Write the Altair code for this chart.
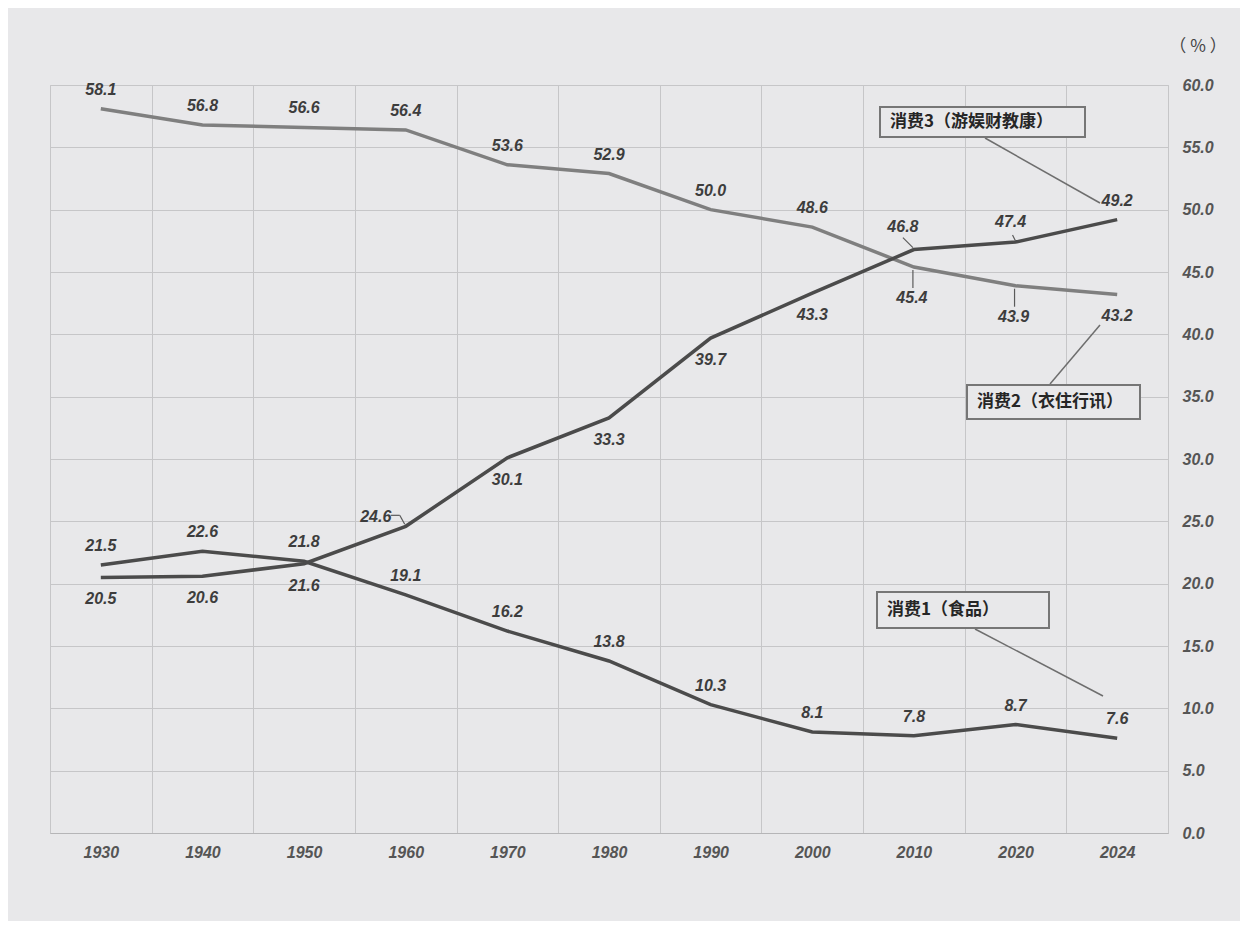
import altair as alt
import pandas as pd

# ---------------- data ----------------
years = ["1930", "1940", "1950", "1960", "1970", "1980", "1990", "2000", "2010", "2020", "2024"]
food = [21.5, 22.6, 21.8, 19.1, 16.2, 13.8, 10.3, 8.1, 7.8, 8.7, 7.6]
living = [58.1, 56.8, 56.6, 56.4, 53.6, 52.9, 50.0, 48.6, 45.4, 43.9, 43.2]
leisure = [20.5, 20.6, 21.6, 24.6, 30.1, 33.3, 39.7, 43.3, 46.8, 47.4, 49.2]
series_names = ["消费1（食品）", "消费2（衣住行讯）", "消费3（游娱财教康）"]
y_ticks = [0, 5, 10, 15, 20, 25, 30, 35, 40, 45, 50, 55, 60]

# label placement kind per point
food_pos = ["above"] * 11
living_pos = ["above"] * 8 + ["below_lead", "below_lead", "below"]
leisure_pos = ["below", "below", "below", "left_lead", "below", "below", "below", "below",
               "above_left_lead", "above_lead", "above"]

rows = []
for name, vals, poss in zip(series_names, [food, living, leisure], [food_pos, living_pos, leisure_pos]):
    for y, v, p in zip(years, vals, poss):
        rows.append({"year": y, "value": v, "series": name, "pos": p})
df = pd.DataFrame(rows)

# ---------------- style ----------------
BG = "#e8e8ea"
GRID = "#c6c6c8"
TXT = "#3d3d3d"
NUM_FONT = "Liberation Sans Narrow, Liberation Sans, Arial"
CJK_FONT = "Noto Sans CJK SC"
W, H = 1118, 748

x_enc = alt.X("year:N", sort=years, title=None,
              scale=alt.Scale(paddingInner=0, paddingOuter=0),
              axis=alt.Axis(labelAngle=0, ticks=False, grid=True, tickBand="extent",
                            gridColor=GRID, domainColor="#b5b5b7", labelPadding=11,
                            labelFont=NUM_FONT, labelFontSize=16, labelFontWeight="bold",
                            labelFontStyle="italic", labelColor="#555555"))
y_enc = alt.Y("value:Q", title=None,
              scale=alt.Scale(domain=[0, 60], nice=False, zero=True),
              axis=alt.Axis(orient="right", values=y_ticks, format=".1f", ticks=False,
                            domain=False, gridColor=GRID, labelPadding=14,
                            labelFont=NUM_FONT, labelFontSize=16, labelFontWeight="bold",
                            labelFontStyle="italic", labelColor="#555555"))

base = alt.Chart(df)

lines = base.mark_line(strokeWidth=3.5, strokeCap="butt").encode(
    x=x_enc, y=y_enc,
    color=alt.Color("series:N", legend=None,
                    scale=alt.Scale(domain=series_names, range=["#4b4b4b", "#7f7f7f", "#4b4b4b"])),
    detail="series:N",
)

offsets = {
    "above": (0, -19),
    "below": (0, 22),
    "below_lead": (-2, 31),
    "above_left_lead": (-11, -23),
    "above_lead": (-5, -20),
    "left_lead": (-30, -9),
}
text_layers = []
for key, (dx, dy) in offsets.items():
    text_layers.append(
        base.transform_filter(alt.datum.pos == key).mark_text(
            dx=dx, dy=dy, font=NUM_FONT, fontSize=16, fontWeight="bold", fontStyle="italic",
            color=TXT
        ).encode(x=alt.X("year:N", sort=years), y="value:Q",
                 text=alt.Text("value:Q", format=".1f"))
    )

# small leader lines from labels to points
leader_specs = {
    "below_lead": [(-1, 3, -1, 21)],
    "above_left_lead": [(-11, -12, -1, -2)],
    "above_lead": [(-3, -7, 0, -1)],
    "left_lead": [(-15, -11, -6, -11), (-6, -11, -1, -2)],
}
leader_layers = []
for key, segs in leader_specs.items():
    for (x0, y0, x1, y1) in segs:
        leader_layers.append(
            base.transform_filter(alt.datum.pos == key).mark_rule(
                color="#5a5a5a", strokeWidth=1.2,
                xOffset=x0, yOffset=y0, x2Offset=x1, y2Offset=y1
            ).encode(x=alt.X("year:N", sort=years), x2="year:N", y="value:Q", y2="value:Q")
        )

# ---------------- annotation boxes ----------------
one = pd.DataFrame({"k": [0]})
ann = alt.Chart(one)

def box(x0, x1, y0, y1):
    return ann.mark_rect(fill=BG, stroke="#767676", strokeWidth=2).encode(
        x=alt.value(x0), x2=alt.value(x1), y=alt.value(y0), y2=alt.value(y1))

def label(txt, x, y):
    return ann.mark_text(text=txt, align="left", baseline="middle", font=CJK_FONT,
                         fontSize=17, fontWeight="bold", color="#262626").encode(
        x=alt.value(x), y=alt.value(y))

def lead(x0, y0, x1, y1):
    return ann.mark_rule(color="#6e6e6e", strokeWidth=1.5).encode(
        x=alt.value(x0), y=alt.value(y0), x2=alt.value(x1), y2=alt.value(y1))

annotations = [
    lead(935, 53, 1050, 118), box(830, 1035, 22, 52), label(series_names[2], 840, 37),
    lead(1000, 299, 1050, 240), box(917, 1090, 300, 334), label(series_names[1], 927, 317),
    lead(925, 544, 1053, 611), box(827, 999, 507, 543), label(series_names[0], 837, 525),
    ann.mark_text(text="（ % ）", align="center", baseline="middle", font=CJK_FONT,
                  fontSize=17, color="#444444").encode(x=alt.value(1148), y=alt.value(-38)),
]

chart = alt.layer(lines, *leader_layers, *text_layers, *annotations).properties(
    width=W, height=H,
    background=BG,
    padding={"left": 42, "top": 77, "right": 72, "bottom": 88},
    autosize=alt.AutoSizeParams(type="none"),
).configure_view(stroke=GRID, fill=BG)

chart.save("out.html", embed_options={"renderer": "svg", "actions": False})
